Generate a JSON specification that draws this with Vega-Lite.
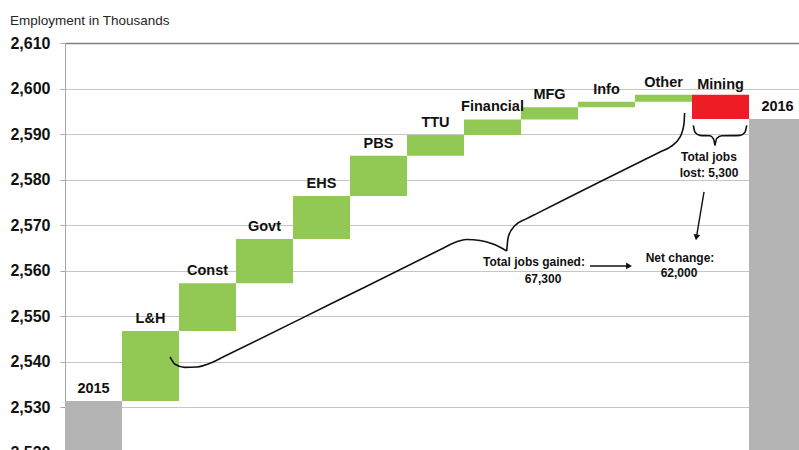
{
  "$schema": "https://vega.github.io/schema/vega-lite/v6.json",
  "width": 734,
  "height": 407,
  "autosize": {"type": "none"},
  "padding": {"left": 65, "top": 43, "right": 0, "bottom": 0},
  "background": "white",
  "config": {"view": {"stroke": null}},
  "title": {
    "text": "Employment in Thousands",
    "anchor": "start",
    "offset": 8,
    "font": "Liberation Sans",
    "fontSize": 13.5,
    "fontWeight": "normal",
    "color": "#262626"
  },
  "datasets": {
    "bars": [
      {"category": "2015", "start": 0, "end": 2531.3, "kind": "total"},
      {"category": "L&H", "start": 2531.3, "end": 2546.7, "kind": "gain"},
      {"category": "Const", "start": 2546.7, "end": 2557.2, "kind": "gain"},
      {"category": "Govt", "start": 2557.2, "end": 2566.9, "kind": "gain"},
      {"category": "EHS", "start": 2566.9, "end": 2576.4, "kind": "gain"},
      {"category": "PBS", "start": 2576.4, "end": 2585.2, "kind": "gain"},
      {"category": "TTU", "start": 2585.2, "end": 2589.8, "kind": "gain"},
      {"category": "Financial", "start": 2589.8, "end": 2593.2, "kind": "gain"},
      {"category": "MFG", "start": 2593.2, "end": 2595.9, "kind": "gain"},
      {"category": "Info", "start": 2595.9, "end": 2597.1, "kind": "gain"},
      {"category": "Other", "start": 2597.1, "end": 2598.6, "kind": "gain"},
      {"category": "Mining", "start": 2598.6, "end": 2593.3, "kind": "loss"},
      {"category": "2016", "start": 0, "end": 2593.3, "kind": "total"}
    ],
    "curves": [
      {"seg": "gained1", "i": 1, "u": 1.842, "v": 2541.0},
      {"seg": "gained1", "i": 2, "u": 1.93, "v": 2539.4},
      {"seg": "gained1", "i": 3, "u": 2.105, "v": 2538.7},
      {"seg": "gained1", "i": 4, "u": 2.311, "v": 2538.8},
      {"seg": "gained1", "i": 5, "u": 2.596, "v": 2539.9},
      {"seg": "gained1", "i": 6, "u": 2.772, "v": 2540.97},
      {"seg": "gained1", "i": 7, "u": 4.702, "v": 2552.9},
      {"seg": "gained1", "i": 8, "u": 6.632, "v": 2564.89},
      {"seg": "gained1", "i": 9, "u": 6.807, "v": 2566.0},
      {"seg": "gained1", "i": 10, "u": 7.047, "v": 2566.8},
      {"seg": "gained1", "i": 11, "u": 7.281, "v": 2566.6},
      {"seg": "gained1", "i": 12, "u": 7.509, "v": 2565.8},
      {"seg": "gained1", "i": 13, "u": 7.749, "v": 2564.3},
      {"seg": "gained2", "i": 1, "u": 7.749, "v": 2564.3},
      {"seg": "gained2", "i": 2, "u": 7.777, "v": 2567.4},
      {"seg": "gained2", "i": 3, "u": 7.895, "v": 2569.9},
      {"seg": "gained2", "i": 4, "u": 8.1, "v": 2571.4},
      {"seg": "gained2", "i": 5, "u": 8.275, "v": 2572.5},
      {"seg": "gained2", "i": 6, "u": 9.351, "v": 2579.3},
      {"seg": "gained2", "i": 7, "u": 10.439, "v": 2586.04},
      {"seg": "gained2", "i": 8, "u": 10.614, "v": 2587.1},
      {"seg": "gained2", "i": 9, "u": 10.789, "v": 2589.3},
      {"seg": "gained2", "i": 10, "u": 10.86, "v": 2592.3},
      {"seg": "gained2", "i": 11, "u": 10.87, "v": 2594.6},
      {"seg": "lost1", "i": 1, "u": 11.023, "v": 2591.9},
      {"seg": "lost1", "i": 2, "u": 11.053, "v": 2590.4},
      {"seg": "lost1", "i": 3, "u": 11.14, "v": 2589.7},
      {"seg": "lost1", "i": 4, "u": 11.316, "v": 2589.6},
      {"seg": "lost1", "i": 5, "u": 11.374, "v": 2589.0},
      {"seg": "lost1", "i": 6, "u": 11.404, "v": 2587.5},
      {"seg": "lost2", "i": 1, "u": 11.404, "v": 2587.5},
      {"seg": "lost2", "i": 2, "u": 11.433, "v": 2589.0},
      {"seg": "lost2", "i": 3, "u": 11.521, "v": 2589.6},
      {"seg": "lost2", "i": 4, "u": 11.842, "v": 2589.7},
      {"seg": "lost2", "i": 5, "u": 11.93, "v": 2590.4},
      {"seg": "lost2", "i": 6, "u": 11.96, "v": 2591.9}
    ],
    "arrows": [
      {"arrow": "down", "i": 1, "u": 11.211, "v": 2577.3},
      {"arrow": "down", "i": 2, "u": 11.077, "v": 2567.3},
      {"arrow": "right", "i": 1, "u": 9.211, "v": 2561.0},
      {"arrow": "right", "i": 2, "u": 9.895, "v": 2561.0}
    ],
    "notes": [
      {"note": "Total jobs", "u": 11.298, "v": 2584.9},
      {"note": "lost: 5,300", "u": 11.298, "v": 2581.4},
      {"note": "Total jobs gained:", "u": 8.228, "v": 2561.9},
      {"note": "67,300", "u": 8.386, "v": 2558.2},
      {"note": "Net change:", "u": 10.789, "v": 2562.8},
      {"note": "62,000", "u": 10.772, "v": 2559.4}
    ]
  },
  "resolve": {"scale": {"x": "independent"}},
  "layer": [
    {
      "data": {"name": "bars"},
      "encoding": {
        "x": {
          "field": "category",
          "type": "nominal",
          "sort": null,
          "scale": {"range": [0, 741], "paddingInner": 0, "paddingOuter": 0},
          "axis": {"orient": "top", "labels": false, "ticks": false, "title": null, "grid": false, "domainColor": "#7F7F7F", "domainWidth": 1.5}
        }
      },
      "layer": [
        {
          "mark": {"type": "bar", "clip": true},
          "encoding": {
            "y": {
              "field": "start",
              "type": "quantitative",
              "scale": {"domain": [2520, 2610], "range": [409.5, 0], "nice": false, "zero": false},
              "axis": {
                "title": null,
                "values": [2520, 2530, 2540, 2550, 2560, 2570, 2580, 2590, 2600, 2610],
                "format": ",.0f",
                "labelFont": "Liberation Sans",
                "labelFontWeight": "bold",
                "labelFontSize": 16,
                "labelColor": "#111111",
                "labelPadding": 10,
                "tickSize": 5,
                "tickColor": "#A6A6A6",
                "domainColor": "#A6A6A6",
                "grid": true,
                "gridColor": "#C6C6C6"
              }
            },
            "y2": {"field": "end"},
            "color": {
              "field": "kind",
              "type": "nominal",
              "scale": {"domain": ["total", "gain", "loss"], "range": ["#B4B4B4", "#92C955", "#EE1C25"]},
              "legend": null
            }
          }
        },
        {
          "transform": [{"filter": "datum.kind != 'loss'"}],
          "mark": {"type": "text", "font": "Liberation Sans", "fontWeight": "bold", "fontSize": 14.5, "dy": -12, "baseline": "middle", "color": "#111111"},
          "encoding": {
            "y": {"field": "end", "type": "quantitative"},
            "text": {"field": "category"}
          }
        },
        {
          "transform": [{"filter": "datum.kind == 'loss'"}],
          "mark": {"type": "text", "font": "Liberation Sans", "fontWeight": "bold", "fontSize": 14.5, "dy": -10, "baseline": "middle", "color": "#111111"},
          "encoding": {
            "y": {"field": "start", "type": "quantitative"},
            "text": {"field": "category"}
          }
        }
      ]
    },
    {
      "encoding": {
        "x": {"field": "u", "type": "quantitative", "scale": {"domain": [0, 13], "range": [0, 741], "nice": false, "zero": false}, "axis": null},
        "y": {"field": "v", "type": "quantitative"}
      },
      "layer": [
        {
          "data": {"name": "curves"},
          "mark": {"type": "line", "interpolate": "monotone", "color": "#111111", "strokeWidth": 1.6},
          "encoding": {"detail": {"field": "seg"}, "order": {"field": "i"}}
        },
        {
          "data": {"name": "arrows"},
          "mark": {"type": "line", "color": "#111111", "strokeWidth": 1.4},
          "encoding": {"detail": {"field": "arrow"}, "order": {"field": "i"}}
        },
        {
          "data": {"name": "arrows"},
          "transform": [{"filter": "datum.arrow == 'down' && datum.i == 2"}],
          "mark": {"type": "point", "shape": "triangle-down", "filled": true, "size": 45, "angle": 9, "color": "#111111", "opacity": 1}
        },
        {
          "data": {"name": "arrows"},
          "transform": [{"filter": "datum.arrow == 'right' && datum.i == 2"}],
          "mark": {"type": "point", "shape": "triangle-right", "filled": true, "size": 45, "color": "#111111", "opacity": 1}
        },
        {
          "data": {"name": "notes"},
          "mark": {"type": "text", "font": "Liberation Sans", "fontWeight": "bold", "fontSize": 12, "baseline": "middle", "align": "center", "color": "#111111"},
          "encoding": {"text": {"field": "note"}}
        }
      ]
    }
  ]
}
